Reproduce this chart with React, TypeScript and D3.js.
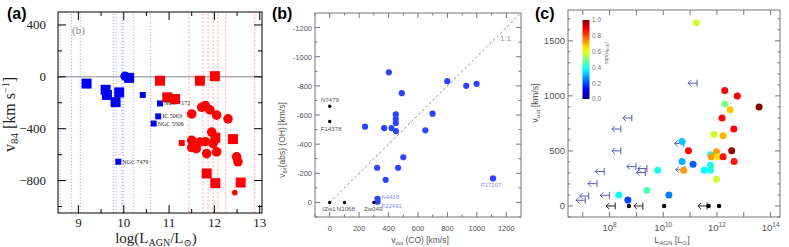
import React from "react";
import * as d3 from "d3";

// ---------- panel (a): v84 vs log(L_AGN) ----------
// [logL, v84, marker, big]
const aBlue: [number, number, string, number][] = [
  [9.18, -52, "s", 1],
  [9.6, -100, "s", 1],
  [9.63, -140, "s", 1],
  [9.82, -195, "s", 1],
  [9.9, -120, "s", 1],
  [10.03, 5, "c", 1],
  [10.12, -8, "s", 1],
  [10.42, -140, "s", 0],
  [10.8, -205, "s", 0],
  [10.76, -305, "s", 0],
  [10.66, -360, "s", 0],
  [9.88, -655, "s", 0],
];
const aBlueNames: [number, number, string][] = [
  [10.8, -205, "NGC 7172"],
  [10.76, -305, "IC 5063"],
  [10.66, -360, "NGC 5506"],
  [9.88, -655, "NGC 7479"],
];
const aRed: [number, number, string, number][] = [
  [10.8, -30, "s", 1],
  [11.68, -30, "s", 1],
  [12.01, 5, "s", 1],
  [10.96, -158, "s", 1],
  [11.13, -171, "s", 1],
  [11.5, -286, "c", 1],
  [11.72, -235, "c", 1],
  [11.8, -222, "c", 1],
  [11.9, -255, "c", 1],
  [12.05, -295, "c", 1],
  [12.3, -324, "c", 1],
  [11.28, -510, "s", 0],
  [11.5, -490, "c", 1],
  [11.5, -545, "c", 1],
  [11.6, -553, "c", 1],
  [11.68, -502, "c", 1],
  [11.8, -500, "c", 1],
  [11.94, -426, "c", 1],
  [12.02, -470, "s", 1],
  [11.97, -515, "c", 1],
  [11.83, -592, "c", 1],
  [12.05, -579, "c", 1],
  [12.41, -480, "s", 1],
  [12.49, -617, "c", 1],
  [12.52, -655, "c", 1],
  [11.83, -745, "s", 1],
  [12.02, -820, "s", 1],
  [12.58, -815, "s", 1],
  [12.45, -893, "c", 0],
];
const aBlueLines = [8.6, 8.85, 9.04, 9.77, 9.83, 9.96, 9.99, 10.21, 10.59];
const aRedLines = [11.44, 11.75, 11.86, 11.97, 12.08, 12.25, 12.89];
const aXTicks = [9, 10, 11, 12, 13];
const aYTicks = [-800, -400, 0, 400];

// ---------- panel (b): v84(OH) vs v_out(CO) ----------
const bBlueX = [402, 490, 799, 928, 998, 240, 370, 420, 449, 449, 449, 450, 699, 650, 500, 322, 465, 380, 1110, 325, 325];
const bBlueY = [-893, -750, -832, -800, -814, -520, -510, -510, -605, -573, -545, -490, -609, -495, -310, -238, -238, -155, -165, -25, -5];
const bBlueNames: [number, number, string][] = [
  [325, -25, "N4418"],
  [325, -5, "F22491"],
  [1110, -165, "F17207"],
];
const bBlack: [number, number, string][] = [
  [0, -660, "N7479"],
  [0, -555, "F14378"],
  [0, 0, "IZw1"],
  [100, 0, "N1068"],
  [300, 0, "Zw049"],
];
const bXTicks = [0, 200, 400, 600, 800, 1000, 1200];
const bYTicks = [0, -200, -400, -600, -800, -1000, -1200];

// ---------- panel (c): v_out vs L_AGN ----------
const cLogL = [11.23, 12.29, 12.76, 13.57, 12.29, 12.49, 12.19, 12.63, 11.89, 12.23, 10.7, 10.94, 11.98, 12.55, 11.76, 11.79, 12.04, 12.23, 12.64, 10.7, 11.11, 10.76, 11.76, 11.76, 11.53, 11.98, 9.79, 9.39, 8.35, 8.68, 10.21];
const cVout = [1665, 1048, 1000, 900, 927, 875, 799, 699, 650, 638, 586, 501, 492, 501, 465, 447, 447, 447, 404, 404, 380, 325, 371, 325, 325, 243, 325, 143, 100, 55, 100];
const cAlpha = [0.58, 0.88, 0.87, 1.0, 0.5, 0.68, 0.87, 0.87, 0.58, 0.7, 0.32, 0.87, 0.72, 0.98, 0.4, 0.72, 0.65, 0.86, 0.85, 0.3, 0.22, 0.72, 0.4, 0.4, 0.38, 0.58, 0.4, 0.45, 0.38, 0.2, 0.25];
// upper limits on L_AGN: [logL, v_out]
const cLimits: [number, number][] = [
  [8.83, 799], [8.42, 699], [8.42, 501], [8.98, 358], [9.39, 340], [9.33, 304],
  [7.8, 313], [7.53, 203], [7.22, 91], [7.09, 52], [7.99, 97], [11.26, 1115],
  [10.76, 568], [10.8, 330],
];
const cLimitsZero = [8.21, 9.24, 11.63];
const cZeroDots = [8.72, 10.03, 11.69, 12.08];
const cXTicks = [8, 10, 12, 14];
const cYTicks = [0, 500, 1000, 1500];
const cBarTicks = [0, 0.2, 0.4, 0.6, 0.8, 1.0];

const jet = (t: number) => {
  const c = (v: number) => Math.max(0, Math.min(1, v)) * 255;
  return d3.rgb(c(1.5 - Math.abs(4 * t - 3)), c(1.5 - Math.abs(4 * t - 2)), c(1.5 - Math.abs(4 * t - 1))).formatHex();
};

const SERIF = "Liberation Serif, DejaVu Serif, serif";
const SANS = "Liberation Sans, Arial, sans-serif";

function Frame({ x0, x1, y0, y1, stroke }: any) {
  return <rect x={x0} y={y1} width={x1 - x0} height={y0 - y1} fill="none" stroke={stroke} strokeWidth={1} />;
}

function PanelA() {
  const x = d3.scaleLinear().domain([8.55, 13.05]).range([58, 262]);
  const y = d3.scaleLinear().domain([-1050, 500]).range([213, 12]);
  const [x0, x1] = x.range();
  const [y0, y1] = y.range();
  const xMinor = aXTicks.map((t) => t - 0.5).filter((t) => t > 8.55 && t < 13.05);
  const yMinor = aYTicks.map((t) => t - 200).filter((t) => t > -1050 && t < 500);
  const mark = (d: [number, number, string, number], fill: string, i: number) => {
    const s = d[3] ? 10 : 6;
    if (d[2] === "s")
      return <rect key={i} x={x(d[0]) - s / 2} y={y(d[1]) - s / 2} width={s} height={s} fill={fill} />;
    return <circle key={i} cx={x(d[0])} cy={y(d[1])} r={d[3] ? 4.8 : 2.8} fill={fill} />;
  };
  return (
    <g>
      {aBlueLines.map((l, i) => (
        <line key={"bl" + i} x1={x(l)} x2={x(l)} y1={y0} y2={y1} stroke="#8a8aff" strokeWidth={0.7} strokeDasharray="1.2,1.8" />
      ))}
      {aRedLines.map((l, i) => (
        <line key={"rl" + i} x1={x(l)} x2={x(l)} y1={y0} y2={y1} stroke="#ff8080" strokeWidth={0.7} strokeDasharray="2,1.8" />
      ))}
      <line x1={x0} x2={x1} y1={y(0)} y2={y(0)} stroke="#888" strokeWidth={1} />
      {aBlue.map((d, i) => mark(d, "#0000f0", i))}
      {aRed.map((d, i) => mark(d, "#ff0000", i))}
      {aBlueNames.map((d, i) => (
        <text key={i} x={x(d[0]) + 4} y={y(d[1]) + 2} fontFamily={SERIF} fontSize={6} fill="#222">{d[2]}</text>
      ))}
      <text x={72} y={34} fontFamily={SERIF} fontSize={11} fill="#888">(b)</text>
      {aXTicks.map((t) => (
        <g key={t}>
          <line x1={x(t)} x2={x(t)} y1={y0} y2={y0 - 8} stroke="#000" />
          <line x1={x(t)} x2={x(t)} y1={y1} y2={y1 + 8} stroke="#000" />
          <text x={x(t)} y={227} textAnchor="middle" fontFamily={SERIF} fontSize={13} fill="#222">{t}</text>
        </g>
      ))}
      {xMinor.map((t) => (
        <g key={"m" + t}>
          <line x1={x(t)} x2={x(t)} y1={y0} y2={y0 - 4} stroke="#000" />
          <line x1={x(t)} x2={x(t)} y1={y1} y2={y1 + 4} stroke="#000" />
        </g>
      ))}
      {aYTicks.map((t) => (
        <g key={t}>
          <line x1={x0} x2={x0 + 8} y1={y(t)} y2={y(t)} stroke="#000" />
          <line x1={x1} x2={x1 - 8} y1={y(t)} y2={y(t)} stroke="#000" />
          <text x={46} y={y(t) + 4.5} textAnchor="end" fontFamily={SERIF} fontSize={13} fill="#222">{t < 0 ? "\u2212" + -t : t}</text>
        </g>
      ))}
      {yMinor.map((t) => (
        <g key={"m" + t}>
          <line x1={x0} x2={x0 + 4} y1={y(t)} y2={y(t)} stroke="#000" />
          <line x1={x1} x2={x1 - 4} y1={y(t)} y2={y(t)} stroke="#000" />
        </g>
      ))}
      <Frame x0={x0} x1={x1} y0={y0} y1={y1} stroke="#000" />
      <text x={156} y={243} textAnchor="middle" fontFamily={SERIF} fontSize={15} fill="#222">
        log(L<tspan fontSize={10} dy={3}>AGN</tspan><tspan dy={-3}>/L</tspan><tspan fontSize={10} dy={3}>{"\u2299"}</tspan><tspan dy={-3}>)</tspan>
      </text>
      <text transform={`translate(15,${(y0 + y1) / 2 + 2}) rotate(-90)`} textAnchor="middle" fontFamily={SERIF} fontSize={16} fill="#222">
        v<tspan fontSize={11} dy={3}>84</tspan><tspan dy={-3}> [km s</tspan><tspan fontSize={10} dy={-6}>{"\u22121"}</tspan><tspan dy={6}>]</tspan>
      </text>
      <text x={7} y={19} fontFamily={SANS} fontSize={16} fontWeight="bold" fill="#000">(a)</text>
    </g>
  );
}

function PanelB() {
  const x = d3.scaleLinear().domain([-100, 1300]).range([315, 521]);
  const y = d3.scaleLinear().domain([100, -1300]).range([217, 13]);
  const [x0, x1] = x.range();
  const [y0, y1] = y.range();
  const ax = "#777";
  const xMinor = d3.range(-100, 1300, 200);
  const yMinor = d3.range(100, -1300, -200);
  // label offsets (dx, dy) from their points
  const blackOff: Record<string, [number, number]> = {
    N7479: [-9, -4], F14378: [-9, 9], IZw1: [-7.5, 9], N1068: [-7.7, 9], Zw049: [-10, 9],
  };
  const blueOff: Record<string, [number, number]> = {
    N4418: [4, 0], F22491: [4, 6], F17207: [-12, 9],
  };
  return (
    <g>
      <line x1={x(0)} y1={y(0)} x2={x(1290)} y2={y(-1290)} stroke="#888" strokeWidth={1} strokeDasharray="2.5,2.5" />
      <text x={500} y={41} fontFamily={SANS} fontSize={8} fill="#999">1:1</text>
      {bBlueX.map((v, i) => (
        <circle key={i} cx={x(v)} cy={y(bBlueY[i])} r={3.1} fill="#2b44ff" />
      ))}
      {bBlueNames.map((d, i) => (
        <text key={i} x={x(d[0]) + blueOff[d[2]][0]} y={y(d[1]) + blueOff[d[2]][1]} fontFamily={SANS} fontSize={6} fill="#8a8af5">{d[2]}</text>
      ))}
      {bBlack.map((d, i) => (
        <g key={i}>
          <circle cx={x(d[0])} cy={y(d[1])} r={1.7} fill="#000" />
          <text x={x(d[0]) + blackOff[d[2]][0]} y={y(d[1]) + blackOff[d[2]][1]} fontFamily={SANS} fontSize={6.2} fill="#555">{d[2]}</text>
        </g>
      ))}
      {bXTicks.map((t) => (
        <g key={t}>
          <line x1={x(t)} x2={x(t)} y1={y0} y2={y0 - 5} stroke={ax} />
          <line x1={x(t)} x2={x(t)} y1={y1} y2={y1 + 5} stroke={ax} />
          <text x={x(t)} y={231} textAnchor="middle" fontFamily={SANS} fontSize={7.5} fill="#555">{t}</text>
        </g>
      ))}
      {xMinor.map((t) => (
        <g key={"m" + t}>
          <line x1={x(t)} x2={x(t)} y1={y0} y2={y0 - 2.5} stroke={ax} />
          <line x1={x(t)} x2={x(t)} y1={y1} y2={y1 + 2.5} stroke={ax} />
        </g>
      ))}
      {bYTicks.map((t) => (
        <g key={t}>
          <line x1={x0} x2={x0 + 5} y1={y(t)} y2={y(t)} stroke={ax} />
          <line x1={x1} x2={x1 - 5} y1={y(t)} y2={y(t)} stroke={ax} />
          <text x={312} y={y(t) + 3} textAnchor="end" fontFamily={SANS} fontSize={7.5} fill="#555">{t}</text>
        </g>
      ))}
      {yMinor.map((t) => (
        <g key={"m" + t}>
          <line x1={x0} x2={x0 + 2.5} y1={y(t)} y2={y(t)} stroke={ax} />
          <line x1={x1} x2={x1 - 2.5} y1={y(t)} y2={y(t)} stroke={ax} />
        </g>
      ))}
      <Frame x0={x0} x1={x1} y0={y0} y1={y1} stroke={ax} />
      <text x={420} y={243} textAnchor="middle" fontFamily={SANS} fontSize={8.5} fill="#555">
        v<tspan fontSize={5.5} dy={2}>out</tspan><tspan dy={-2}> (CO)  [km/s]</tspan>
      </text>
      <text transform={`translate(285,${140}) rotate(-90)`} textAnchor="middle" fontFamily={SANS} fontSize={8.5} fill="#555">
        v<tspan fontSize={5.5} dy={2}>84</tspan><tspan dy={-2}>(abs) (OH)  [km/s]</tspan>
      </text>
      <text x={272} y={19} fontFamily={SANS} fontSize={16} fontWeight="bold" fill="#000">(b)</text>
    </g>
  );
}

function PanelC() {
  const x = d3.scaleLog().domain([10 ** 6.45, 10 ** 14.35]).range([568, 780]);
  const y = d3.scaleLinear().domain([-100, 1780]).range([217, 10]);
  const [x0, x1] = x.range();
  const [y0, y1] = y.range();
  const ax = "#777";
  const xAll = d3.range(7, 15).map((e) => 10 ** e);
  const yMinor = d3.range(-100, 1780, 100).filter((t) => t % 500 !== 0);
  const bar = d3.scaleLinear().domain([0, 1]).range([99, 20]);
  const arrow = (lx: number, v: number, col: string, k: string) => {
    const bx = x(10 ** lx);
    const by = y(v);
    return (
      <g key={k} stroke={col} strokeWidth={1} fill="none">
        <line x1={bx} x2={bx} y1={by - 3.5} y2={by + 3.5} />
        <line x1={bx} x2={bx - 9} y1={by} y2={by} />
        <polyline points={`${bx - 6},${by - 3} ${bx - 9},${by} ${bx - 6},${by + 3}`} />
      </g>
    );
  };
  return (
    <g>
      <defs>
        <linearGradient id="jetbar" x1="0" x2="0" y1="1" y2="0">
          {d3.range(0, 1.001, 0.05).map((t) => (
            <stop key={t} offset={t} stopColor={jet(t)} />
          ))}
        </linearGradient>
      </defs>
      {cLimits.map((d, i) => arrow(d[0], d[1], "#5a5ab4", "l" + i))}
      {cLimitsZero.map((l, i) => arrow(l, 0, "#222", "z" + i))}
      {cZeroDots.map((l, i) => (
        <circle key={"zd" + i} cx={x(10 ** l)} cy={y(0)} r={2.2} fill="#000" />
      ))}
      {cLogL.map((l, i) => (
        <circle key={i} cx={x(10 ** l)} cy={y(cVout[i])} r={3.5} fill={jet(cAlpha[i])} />
      ))}
      <rect x={582.5} y={20} width={7} height={79} fill="url(#jetbar)" />
      {cBarTicks.map((t) => (
        <text key={t} x={592} y={bar(t) + 2.3} fontFamily={SANS} fontSize={6.5} fill="#777">{t.toFixed(1)}</text>
      ))}
      <text transform="translate(608,53) rotate(-90)" textAnchor="middle" fontFamily={SANS} fontSize={5} fill="#777">
        sqrt(α<tspan fontSize={3.5} dy={1}>AGN</tspan><tspan dy={-1}>)</tspan>
      </text>
      {xAll.map((t, i) => (
        <g key={i}>
          <line x1={x(t)} x2={x(t)} y1={y0} y2={y0 - 5} stroke={ax} />
          <line x1={x(t)} x2={x(t)} y1={y1} y2={y1 + 5} stroke={ax} />
        </g>
      ))}
      {cXTicks.map((e) => (
        <text key={e} x={x(10 ** e)} y={231} textAnchor="middle" fontFamily={SANS} fontSize={9.5} fill="#555">
          10<tspan fontSize={6.5} dy={-4}>{e}</tspan>
        </text>
      ))}
      {cYTicks.map((t) => (
        <g key={t}>
          <line x1={x0} x2={x0 + 5} y1={y(t)} y2={y(t)} stroke={ax} />
          <line x1={x1} x2={x1 - 5} y1={y(t)} y2={y(t)} stroke={ax} />
          <text x={565} y={y(t) + 3.5} textAnchor="end" fontFamily={SANS} fontSize={9.5} fill="#555">{t}</text>
        </g>
      ))}
      {yMinor.map((t) => (
        <g key={"m" + t}>
          <line x1={x0} x2={x0 + 2.5} y1={y(t)} y2={y(t)} stroke={ax} />
          <line x1={x1} x2={x1 - 2.5} y1={y(t)} y2={y(t)} stroke={ax} />
        </g>
      ))}
      <Frame x0={x0} x1={x1} y0={y0} y1={y1} stroke={ax} />
      <text x={672} y={243} textAnchor="middle" fontFamily={SANS} fontSize={9} fill="#555">
        L<tspan fontSize={6} dy={2}>AGN</tspan><tspan dy={-2}>  [L</tspan><tspan fontSize={6} dy={2}>{"\u2299"}</tspan><tspan dy={-2}>]</tspan>
      </text>
      <text transform="translate(538,103) rotate(-90)" textAnchor="middle" fontFamily={SANS} fontSize={9} fill="#555">
        v<tspan fontSize={6} dy={2}>out</tspan><tspan dy={-2}>  [km/s]</tspan>
      </text>
      <text x={535} y={19} fontFamily={SANS} fontSize={16} fontWeight="bold" fill="#000">(c)</text>
    </g>
  );
}

export default function App() {
  return (
    <svg width={789} height={247} viewBox="0 0 789 247" style={{ position: "absolute", left: 0, top: 0, background: "#fff" }}>
      <PanelA />
      <PanelB />
      <PanelC />
    </svg>
  );
}
